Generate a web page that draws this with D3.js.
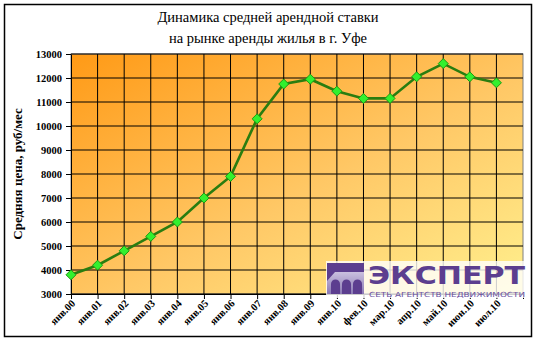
<!DOCTYPE html>
<html>
<head>
<meta charset="utf-8">
<script src="https://cdn.jsdelivr.net/npm/d3@7"></script>
<style>
  body { margin: 0; background: #fff; }
  svg { display: block; }
</style>
</head>
<body>
<div id="chart"></div>
<script>
// Данные графика
const months = ["янв.00", "янв.01", "янв.02", "янв.03", "янв.04", "янв.05", "янв.06", "янв.07",
  "янв.08", "янв.09", "янв.10", "фев.10", "мар.10", "апр.10", "май.10", "июн.10", "июл.10"];
const prices = [3800, 4200, 4800, 5400, 6000, 7000, 7900, 10300,
  11750, 11950, 11450, 11150, 11150, 12050, 12600, 12050, 11800];
const yTicks = [3000, 4000, 5000, 6000, 7000, 8000, 9000, 10000, 11000, 12000, 13000];
const titleLines = ["Динамика средней арендной ставки", "на рынке аренды жилья в г. Уфе"];
const yTitle = "Средняя цена, руб/мес";

const W = 536, H = 342;
const margin = { top: 54, right: 12, bottom: 48, left: 71 };

const svg = d3.select("#chart").append("svg")
  .attr("width", W).attr("height", H);

// фон и рамка
svg.append("rect").attr("x", 4.5).attr("y", 4.5).attr("width", 527).attr("height", 332)
  .attr("fill", "#fff").attr("stroke", "#000").attr("stroke-width", 1.5);

const defs = svg.append("defs");
const grad = defs.append("linearGradient").attr("id", "bg")
  .attr("x1", "0%").attr("y1", "0%").attr("x2", "100%").attr("y2", "100%");
grad.append("stop").attr("offset", "0%").attr("stop-color", "#ff9a16");
grad.append("stop").attr("offset", "55%").attr("stop-color", "#ffc866");
grad.append("stop").attr("offset", "100%").attr("stop-color", "#fff08e");

const x = d3.scaleLinear().domain([0, months.length]).range([margin.left, W - margin.right - 1]);
const y = d3.scaleLinear().domain([3000, 13000]).range([294, 54]);

// область построения
svg.append("rect")
  .attr("x", x(0)).attr("y", y(13000))
  .attr("width", x(months.length) - x(0)).attr("height", y(3000) - y(13000))
  .attr("fill", "url(#bg)").attr("stroke", "#808080").attr("stroke-width", 1);

// сетка
svg.append("g").selectAll("line").data(yTicks).join("line")
  .attr("x1", x(0)).attr("x2", x(months.length))
  .attr("y1", d => y(d)).attr("y2", d => y(d))
  .attr("stroke", "#000").attr("stroke-width", 1);
svg.append("g").selectAll("line").data(d3.range(1, months.length)).join("line")
  .attr("x1", d => x(d)).attr("x2", d => x(d))
  .attr("y1", y(13000)).attr("y2", y(3000))
  .attr("stroke", "#000").attr("stroke-width", 1);

// ось Y
const yAxis = svg.append("g")
  .attr("transform", `translate(${x(0)},0)`)
  .call(d3.axisLeft(y).tickValues(yTicks).tickFormat(d3.format("d"))
    .tickSize(5).tickPadding(4).tickSizeOuter(0));
yAxis.select(".domain").attr("stroke", "#000");
yAxis.selectAll("text")
  .attr("font-family", "Liberation Serif").attr("font-weight", "bold").attr("font-size", 10.5).attr("fill", "#000");

// ось X
const xAxis = svg.append("g")
  .attr("transform", `translate(0,${y(3000)})`)
  .call(d3.axisBottom(x).tickValues(d3.range(0, months.length + 1)).tickSize(5).tickSizeOuter(0).tickFormat(""));
xAxis.select(".domain").attr("stroke", "#000");

svg.append("g").selectAll("text").data(months).join("text")
  .attr("transform", (d, i) => `translate(${x(i) + 5},${y(3000) + 10}) rotate(-45)`)
  .attr("text-anchor", "end")
  .attr("font-family", "Liberation Serif").attr("font-weight", "bold").attr("font-size", 10.5)
  .text(d => d);

// линия
const line = d3.line().x((d, i) => x(i)).y(d => y(d));
svg.append("path").datum(prices)
  .attr("d", line).attr("fill", "none")
  .attr("stroke", "#2a7d10").attr("stroke-width", 2.6);

// маркеры-ромбы
svg.append("g").selectAll("path").data(prices).join("path")
  .attr("transform", (d, i) => `translate(${x(i)},${y(d)})`)
  .attr("d", "M0,-5 L5,0 L0,5 L-5,0 Z")
  .attr("fill", "#33f02e").attr("stroke", "#1c9a12").attr("stroke-width", 1);

// заголовок
svg.append("g").selectAll("text").data(titleLines).join("text")
  .attr("x", 268).attr("y", (d, i) => 22 + i * 21)
  .attr("text-anchor", "middle")
  .attr("font-family", "Liberation Serif").attr("font-size", 14.5)
  .text(d => d);

svg.append("text")
  .attr("transform", `translate(22,174) rotate(-90)`)
  .attr("text-anchor", "middle")
  .attr("font-family", "Liberation Serif").attr("font-weight", "bold").attr("font-size", 13)
  .text(yTitle);

// логотип
const logo = svg.append("g");
logo.append("rect").attr("x", 326).attr("y", 261).attr("width", 201).attr("height", 37)
  .attr("fill", "#fff").attr("opacity", 0.8);
const lg = defs.append("linearGradient").attr("id", "logoGrad")
  .attr("x1", "0%").attr("y1", "0%").attr("x2", "0%").attr("y2", "100%");
lg.append("stop").attr("offset", "0%").attr("stop-color", "#e4def0");
lg.append("stop").attr("offset", "100%").attr("stop-color", "#8a78b4");
logo.append("rect").attr("x", 327).attr("y", 263).attr("width", 37).attr("height", 31)
  .attr("fill", "url(#logoGrad)");
logo.append("path").attr("d", "M327,263 L364,263 L364,272 L335,272 L327,281 Z").attr("fill", "#5c3e8f");
[331, 342, 353].forEach(ax => {
  logo.append("path")
    .attr("d", `M${ax},294 L${ax},284 A4.5,4.5 0 0 1 ${ax + 9},284 L${ax + 9},294 Z`)
    .attr("fill", "#5c3e8f");
});
logo.append("text").attr("x", 368).attr("y", 284)
  .attr("font-family", "DejaVu Sans").attr("font-weight", "bold").attr("font-size", 25)
  .attr("textLength", 157).attr("lengthAdjust", "spacingAndGlyphs")
  .attr("fill", "#5c3e8f").text("ЭКСПЕРТ");
logo.append("text").attr("x", 369).attr("y", 296.5)
  .attr("font-family", "DejaVu Sans").attr("font-size", 7)
  .attr("textLength", 156).attr("lengthAdjust", "spacingAndGlyphs")
  .attr("fill", "#6a50a0").text("СЕТЬ АГЕНТСТВ НЕДВИЖИМОСТИ");
</script>
</body>
</html>
